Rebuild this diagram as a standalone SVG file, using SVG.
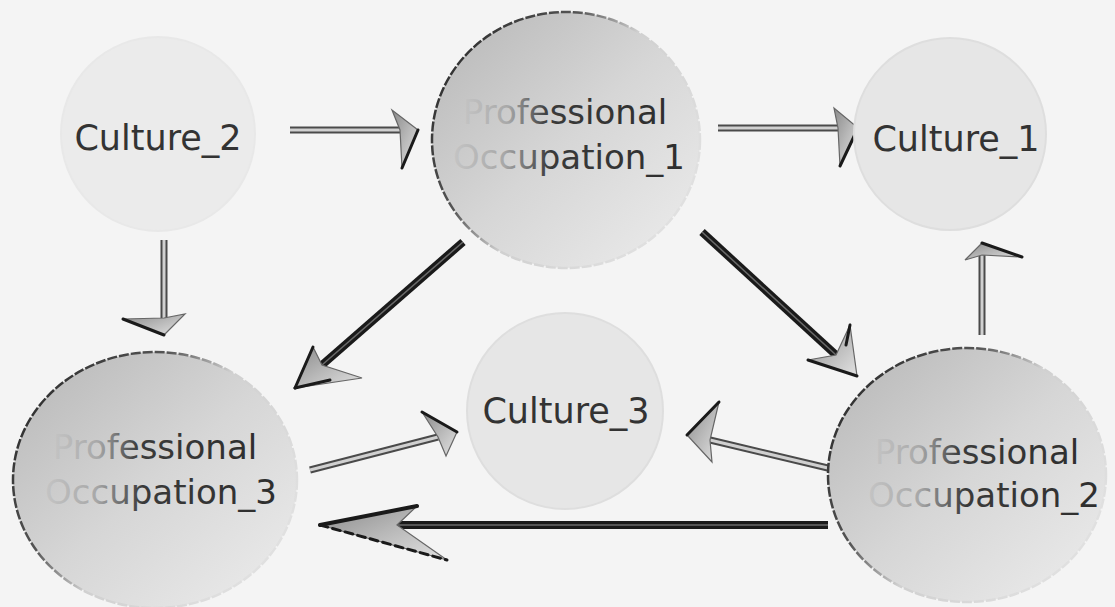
<svg xmlns="http://www.w3.org/2000/svg" width="1115" height="607" viewBox="0 0 1115 607">
<defs>
<style>
.lbl{font-family:"DejaVu Sans","Noto Sans",sans-serif;font-size:35px;text-anchor:middle;fill:#333}
.plbl{font-family:"DejaVu Sans","Noto Sans",sans-serif;font-size:34px;text-anchor:middle;fill:url(#txtFade)}
.po{fill:url(#poFill);stroke:url(#poStroke);stroke-width:2.5;stroke-dasharray:10 2}
.cu{fill:#e6e6e6;stroke:#dedede;stroke-width:2}
.lo{stroke:#4a4a4a;stroke-width:7;fill:none}
.li{stroke:#d0d0d0;stroke-width:3;fill:none}
.do{stroke:#1a1a1a;stroke-width:8;fill:none}
.di{stroke:#6a6a6a;stroke-width:1.5;fill:none}
.hd{fill:url(#headFill);stroke:#666;stroke-width:1.2;stroke-linejoin:miter}
.hdk{fill:none;stroke:#1a1a1a;stroke-width:3;stroke-linecap:round}
</style>
<linearGradient id="poFill" x1="0" y1="0" x2="1" y2="1">
<stop offset="0" stop-color="#b6b6b6"/><stop offset="0.5" stop-color="#d6d6d6"/><stop offset="1" stop-color="#ededed"/>
</linearGradient>
<linearGradient id="poStroke" x1="0" y1="0" x2="1" y2="0.6">
<stop offset="0" stop-color="#1e1e1e"/><stop offset="0.4" stop-color="#555"/><stop offset="0.6" stop-color="#d0d0d0"/><stop offset="1" stop-color="#e0e0e0"/>
</linearGradient>
<linearGradient id="txtFade" x1="0" y1="0" x2="1" y2="0">
<stop offset="0" stop-color="#c4c4c4"/><stop offset="0.22" stop-color="#a8a8a8"/><stop offset="0.42" stop-color="#3a3a3a"/><stop offset="1" stop-color="#2e2e2e"/>
</linearGradient>
<linearGradient id="headFill" x1="0" y1="0" x2="1" y2="1">
<stop offset="0" stop-color="#8a8a8a"/><stop offset="0.5" stop-color="#b8b8b8"/><stop offset="1" stop-color="#e2e2e2"/>
</linearGradient>
</defs>
<rect width="1115" height="607" fill="#f4f4f4"/>

<g id="connectors">
<g id="c2-po1"><line class="lo" x1="290" y1="130" x2="400" y2="130"/><line class="li" x1="290" y1="130" x2="400" y2="130"/><polygon class="hd" points="418,130 392,110 400,130 402,168"/><line class="hdk" x1="418" y1="130" x2="402" y2="168"/></g>
<g id="po1-c1"><line class="lo" x1="718" y1="128" x2="838" y2="128"/><line class="li" x1="718" y1="128" x2="838" y2="128"/><polygon class="hd" points="858,128 834,108 838,128 840,166"/><line class="hdk" x1="858" y1="128" x2="840" y2="166"/></g>
<g id="c2-po3"><line class="lo" x1="164" y1="240" x2="164" y2="318"/><line class="li" x1="164" y1="240" x2="164" y2="318"/><polygon class="hd" points="164,335 123,319 164,318 185,314"/><line class="hdk" x1="164" y1="335" x2="123" y2="319"/></g>
<g id="po1-po3"><line class="do" x1="463" y1="242" x2="322" y2="365"/><line class="di" x1="463" y1="242" x2="322" y2="365"/><polygon class="hd" points="295,388 313,347 322,365 362,378"/><line class="hdk" x1="295" y1="388" x2="313" y2="347"/><line class="hdk" x1="295" y1="388" x2="330" y2="380"/></g>
<g id="po1-po2"><line class="do" x1="702" y1="232" x2="836" y2="355"/><line class="di" x1="702" y1="232" x2="836" y2="355"/><polygon class="hd" points="857,376 850,325 836,355 808,360"/><line class="hdk" x1="857" y1="376" x2="808" y2="360"/><line class="hdk" x1="850" y1="325" x2="846" y2="345"/></g>
<g id="po2-c1"><line class="lo" x1="982" y1="335" x2="982" y2="255"/><line class="li" x1="982" y1="335" x2="982" y2="255"/><polygon class="hd" points="982,243 965,260 982,255 1022,257"/><line class="hdk" x1="982" y1="243" x2="1022" y2="257"/></g>
<g id="po3-c3"><line class="lo" x1="310" y1="470" x2="438" y2="437"/><line class="li" x1="310" y1="470" x2="438" y2="437"/><polygon class="hd" points="457,432 422,412 438,437 446,456"/><line class="hdk" x1="457" y1="432" x2="422" y2="412"/></g>
<g id="po2-c3"><line class="lo" x1="832" y1="469" x2="710" y2="440"/><line class="li" x1="832" y1="469" x2="710" y2="440"/><polygon class="hd" points="687,435 719,402 710,440 712,462"/><line class="hdk" x1="687" y1="435" x2="719" y2="402"/></g>
<g id="po2-po3"><line class="do" x1="828" y1="525" x2="397" y2="525"/><line class="di" x1="828" y1="525" x2="397" y2="525"/><polygon class="hd" points="320,525 417,506 397,525 447,560"/><line class="hdk" x1="320" y1="525" x2="417" y2="506" style="stroke-width:4"/><line class="hdk" x1="320" y1="525" x2="447" y2="560" style="stroke-dasharray:8 5"/></g>
</g>

<g id="culture2"><circle cx="158" cy="134" r="97" fill="#ebebeb" stroke="#e8e8e8" stroke-width="2"/><text class="lbl" x="158" y="150">Culture_2</text></g>
<g id="po1"><ellipse class="po" cx="566" cy="140" rx="134" ry="128"/><text class="plbl" x="565" y="124">Professional</text><text class="plbl" x="569" y="169">Occupation_1</text></g>
<g id="culture1"><circle class="cu" cx="950" cy="134" r="96"/><text class="lbl" x="956" y="151">Culture_1</text></g>
<g id="culture3"><circle class="cu" cx="565" cy="411" r="98"/><text class="lbl" x="566" y="423">Culture_3</text></g>
<g id="po3"><ellipse class="po" cx="155" cy="480" rx="142" ry="128"/><text class="plbl" x="155" y="459">Professional</text><text class="plbl" x="161" y="504">Occupation_3</text></g>
<g id="po2"><ellipse class="po" cx="967" cy="475" rx="139" ry="127"/><text class="plbl" x="977" y="464">Professional</text><text class="plbl" x="984" y="507">Occupation_2</text></g>
</svg>
